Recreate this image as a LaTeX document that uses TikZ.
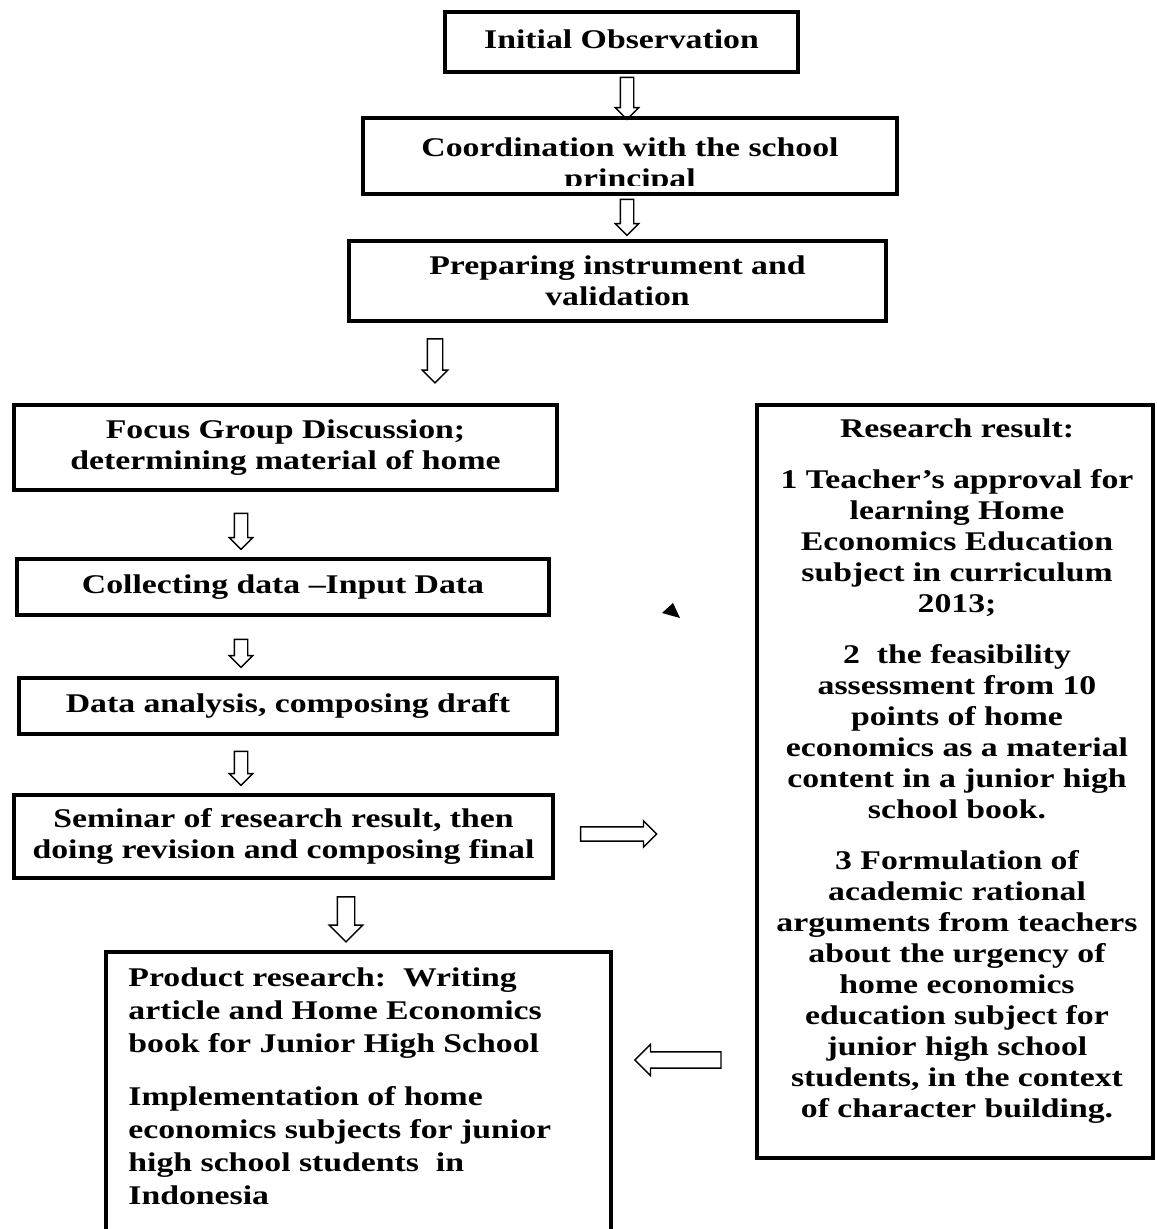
\documentclass[tikz,border=0pt]{standalone}
\usepackage{fontspec}
\setmainfont{Liberation Serif}[FakeStretch=1.25]
\usetikzlibrary{shapes.arrows}

\begin{document}
\begin{tikzpicture}[x=0.5pt, y=-0.5pt, font=\fontsize{13.5}{15.5}\selectfont\bfseries]
        \tikzstyle{box}=[draw, line width=2pt, align=center, inner sep=0pt]
        \tikzstyle{harrow}=[single arrow, draw, line width=0.7pt, single arrow head indent=0pt, single arrow tip angle=90]
        \useasboundingbox (0,0) rectangle (1156,1229);
        % Upper steps
        \node[box, minimum width=176.5pt, minimum height=30pt] (init) at (621.5,42) {\raisebox{3pt}{Initial Observation}};
        \node[box, minimum width=267pt, minimum height=38pt,
            path picture={\clip (path picture bounding box.north west) rectangle ([yshift=4pt]path picture bounding box.south east);
            \node[draw=none, align=center, inner sep=0pt] (coordtxt) at ([yshift=-5pt]path picture bounding box.center) {Coordination with the school\\principal};}] (coord) at (630,156) {};
        \node[box, minimum width=268.5pt, minimum height=40pt] (prep) at (617.5,281) {Preparing instrument and\\validation};
        % Left column
        \node[box, minimum width=271.5pt, minimum height=42.5pt] (focus) at (285.5,447.5) {Focus Group Discussion;\\determining material of home};
        \node[box, minimum width=266pt, minimum height=28pt] (collect) at (283,587) {\raisebox{1.5pt}{Collecting data --Input Data}};
        \node[box, minimum width=269pt, minimum height=28pt] (analysis) at (288,706) {Data analysis, composing draft};
        \node[box, minimum width=269.5pt, minimum height=41.5pt] (seminar) at (283.5,836.5) {Seminar of research result, then\\doing revision and composing final};
        \node[box, minimum width=252.5pt, minimum height=149pt] (product) at (358.5,1101) {};
        \node[align=left, anchor=north west, inner sep=0pt, font=\fontsize{13.5}{16.5}\selectfont\bfseries] (producttxt) at (128,967) {Product research:\ \ Writing\\article and Home Economics\\book for Junior High School\\[10pt]
        Implementation of home\\economics subjects for junior\\high school students\ \ in\\Indonesia};
        % Right column
        \node[box, minimum width=198pt, minimum height=376.5pt] (result) at (955,781.5) {};
        \node[align=center, inner sep=0pt] (resulttxt) at (957,771) {Research result:\\[10pt]
        1 Teacher's approval for\\learning Home\\Economics Education\\subject in curriculum\\2013;\\[10pt]
        2\ \ the feasibility\\assessment from 10\\points of home\\economics as a material\\content in a junior high\\school book.\\[10pt]
        3 Formulation of\\academic rational\\arguments from teachers\\about the urgency of\\home economics\\education subject for\\junior high school\\students, in the context\\of character building.};
        % Hollow arrows
        \node[harrow, shape border rotate=270, minimum height=21pt, inner sep=3pt, single arrow head extend=2.5pt] (a1) at (627,95) {};
        \node[harrow, shape border rotate=270, minimum height=18pt, inner sep=3pt, single arrow head extend=2.5pt] (a2) at (627,214) {};
        \node[harrow, shape border rotate=270, minimum height=22pt, inner sep=3.5pt, single arrow head extend=2.5pt] (a3) at (435,357) {};
        \node[harrow, shape border rotate=270, minimum height=18pt, inner sep=3pt, single arrow head extend=2.5pt] (a4) at (241,528) {};
        \node[harrow, shape border rotate=270, minimum height=14pt, inner sep=3pt, single arrow head extend=2.5pt] (a5) at (241,650) {};
        \node[harrow, shape border rotate=270, minimum height=17pt, inner sep=3pt, single arrow head extend=2.5pt] (a6) at (241,765) {};
        \node[harrow, shape border rotate=270, minimum height=22.5pt, inner sep=4pt, single arrow head extend=4pt] (a7) at (346,915) {};
        \node[harrow, minimum height=38pt, inner sep=3.2pt, single arrow head extend=3pt] (a8) at (615,834) {};
        \node[harrow, shape border rotate=180, minimum height=43pt, inner sep=3.7pt, single arrow head extend=3.7pt] (a9) at (682,1060) {};
        % stray tip
        \fill (662,613) -- (673,603) -- (680,618) -- cycle;
\end{tikzpicture}
\end{document}
